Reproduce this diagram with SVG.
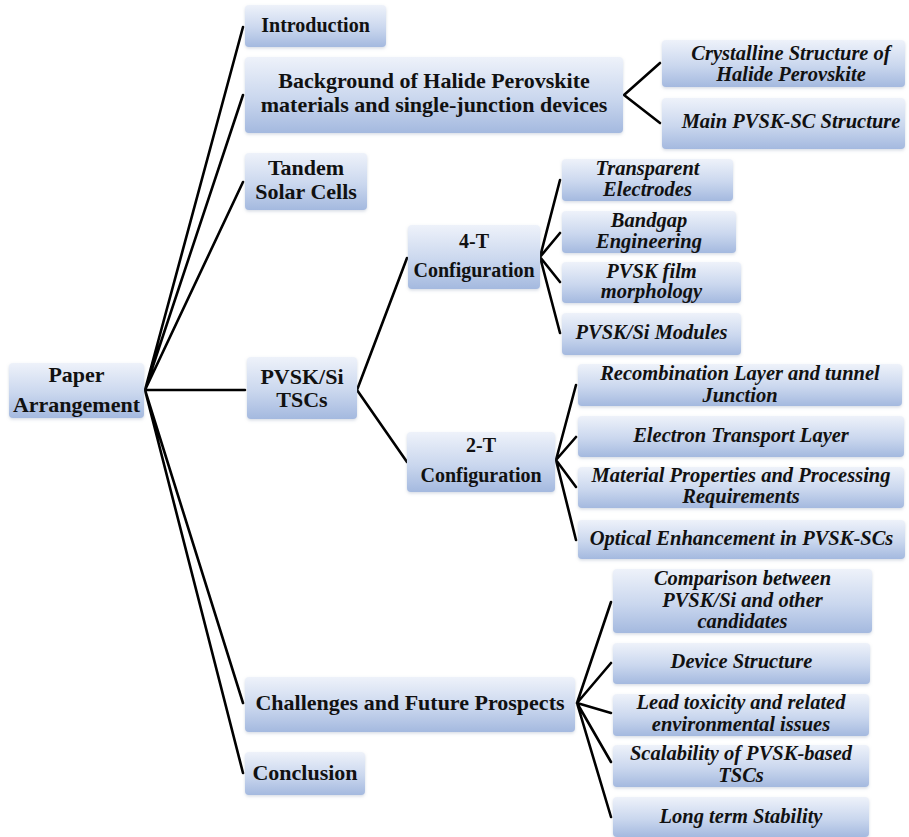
<svg xmlns="http://www.w3.org/2000/svg" width="909" height="837" viewBox="0 0 909 837">
<defs>
<linearGradient id="g" x1="0" y1="0" x2="0" y2="1">
<stop offset="0" stop-color="#eef2fa"/>
<stop offset="0.55" stop-color="#cad7ee"/>
<stop offset="1" stop-color="#a4b9df"/>
</linearGradient>
<filter id="sh" x="-5%" y="-10%" width="110%" height="130%">
<feDropShadow dx="0" dy="1.5" stdDeviation="1.5" flood-color="#8a9ab5" flood-opacity="0.35"/>
</filter>
</defs>
<style>
rect{fill:url(#g);filter:url(#sh)}
text{font-family:"Liberation Serif","Times New Roman",serif;font-weight:bold;fill:#111;text-anchor:middle}
.m{font-size:22px}
.s{font-size:20px}
.i{font-size:20.5px;font-style:italic}
#connectors path{fill:none;stroke:#000;stroke-width:2.6;stroke-linecap:round;stroke-linejoin:round}
</style>
<rect width="909" height="837" fill="#fff" style="fill:#fff;filter:none"/>
<g id="connectors">
<path d="M145 390 L243 27 M145 390 L243 95 M145 390 L243 182 M145 390 L245 390 M145 390 L243 703 M145 390 L243 773"/>
<path d="M624 95 L660 63 M624 95 L660 123"/>
<path d="M357 390 L407 258 M357 390 L407 462"/>
<path d="M540 257 L560 180 M540 257 L560 233 M540 257 L560 282 M540 257 L560 333"/>
<path d="M556 460 L576 385 M556 460 L576 437 M556 460 L576 487 M556 460 L576 540"/>
<path d="M577 703 L611 602 M577 703 L611 663 M577 703 L611 713 M577 703 L611 762 M577 703 L611 817"/>
</g>
<g id="paper"><rect x="9" y="363" width="135" height="55" rx="4"/><text class="m" x="76.5" y="382">Paper</text><text class="m" x="76.5" y="412">Arrangement</text></g>
<g id="intro"><rect x="245" y="5" width="141" height="42" rx="4"/><text class="s" x="315.5" y="32">Introduction</text></g>
<g id="background"><rect x="245" y="57" width="378" height="76" rx="4"/><text class="m" x="434" y="88">Background of Halide Perovskite</text><text class="m" x="434" y="112">materials and single-junction devices</text></g>
<g id="crystalline"><rect x="662" y="40" width="243" height="47" rx="4"/><text class="i" x="791" y="60">Crystalline Structure of</text><text class="i" x="791" y="81">Halide Perovskite</text></g>
<g id="mainpvsk"><rect x="662" y="98" width="243" height="51" rx="4"/><text class="i" x="791" y="128">Main PVSK-SC Structure</text></g>
<g id="tandem"><rect x="245" y="153" width="122" height="57" rx="4"/><text class="m" x="306" y="175">Tandem</text><text class="m" x="306" y="199">Solar Cells</text></g>
<g id="pvsksi"><rect x="247" y="357" width="110" height="62" rx="4"/><text class="m" x="302" y="384">PVSK/Si</text><text class="m" x="302" y="407">TSCs</text></g>
<g id="fourT"><rect x="408" y="225" width="132" height="64" rx="4"/><text class="s" x="474" y="248">4-T</text><text class="s" x="474" y="277">Configuration</text></g>
<g id="transparent"><rect x="562" y="159" width="171" height="42" rx="4"/><text class="i" x="647.5" y="175">Transparent</text><text class="i" x="647.5" y="196">Electrodes</text></g>
<g id="bandgap"><rect x="562" y="211" width="174" height="42" rx="4"/><text class="i" x="649" y="227">Bandgap</text><text class="i" x="649" y="248">Engineering</text></g>
<g id="film"><rect x="562" y="262" width="179" height="41" rx="4"/><text class="i" x="651.5" y="278">PVSK film</text><text class="i" x="651.5" y="298">morphology</text></g>
<g id="modules"><rect x="562" y="313" width="179" height="42" rx="4"/><text class="i" x="651.5" y="339">PVSK/Si Modules</text></g>
<g id="twoT"><rect x="407" y="432" width="148" height="60" rx="4"/><text class="s" x="481" y="452">2-T</text><text class="s" x="481" y="482">Configuration</text></g>
<g id="recomb"><rect x="578" y="364" width="324" height="42" rx="4"/><text class="i" x="740" y="380">Recombination Layer and tunnel</text><text class="i" x="740" y="402">Junction</text></g>
<g id="etl"><rect x="578" y="416" width="326" height="41" rx="4"/><text class="i" x="741" y="442">Electron Transport Layer</text></g>
<g id="material"><rect x="578" y="467" width="326" height="41" rx="4"/><text class="i" x="741" y="482">Material Properties and Processing</text><text class="i" x="741" y="503">Requirements</text></g>
<g id="optical"><rect x="578" y="520" width="327" height="39" rx="4"/><text class="i" x="741.5" y="545">Optical Enhancement in PVSK-SCs</text></g>
<g id="challenges"><rect x="245" y="677" width="330" height="55" rx="4"/><text class="m" x="410" y="710">Challenges and Future Prospects</text></g>
<g id="conclusion"><rect x="245" y="752" width="120" height="43" rx="4"/><text class="m" x="305" y="780">Conclusion</text></g>
<g id="comparison"><rect x="613" y="569" width="259" height="64" rx="4"/><text class="i" x="742.5" y="585">Comparison between</text><text class="i" x="742.5" y="607">PVSK/Si and other</text><text class="i" x="742.5" y="628">candidates</text></g>
<g id="device"><rect x="613" y="643" width="257" height="41" rx="4"/><text class="i" x="741.5" y="668">Device Structure</text></g>
<g id="lead"><rect x="613" y="694" width="256" height="42" rx="4"/><text class="i" x="741" y="709">Lead toxicity and related</text><text class="i" x="741" y="731">environmental issues</text></g>
<g id="scalability"><rect x="613" y="745" width="256" height="42" rx="4"/><text class="i" x="741" y="760">Scalability of PVSK-based</text><text class="i" x="741" y="782">TSCs</text></g>
<g id="longterm"><rect x="613" y="797" width="256" height="40" rx="4"/><text class="i" x="741" y="823">Long term Stability</text></g>
</svg>
